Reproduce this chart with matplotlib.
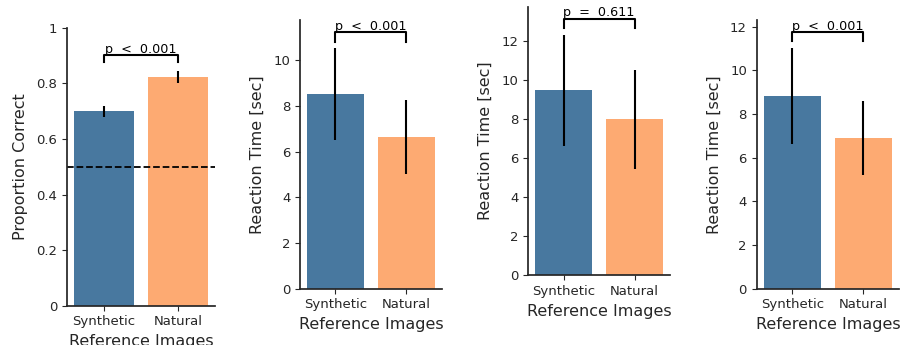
import numpy as np
import matplotlib
matplotlib.use("Agg")
import matplotlib.pyplot as plt

# data
labels = ["Synthetic", "Natural"]
colors = ["#48789f", "#fdaa72"]

prop_correct = [0.70, 0.822]
prop_lo = [0.680, 0.800]
prop_hi = [0.718, 0.844]

rt_a = [8.52, 6.64]
rt_a_lo = [6.51, 5.03]
rt_a_hi = [10.52, 8.26]

rt_b = [9.50, 8.01]
rt_b_lo = [6.65, 5.45]
rt_b_hi = [12.32, 10.53]

rt_c = [8.81, 6.90]
rt_c_lo = [6.61, 5.21]
rt_c_hi = [11.01, 8.60]

p_texts = ["p  <  0.001", "p  <  0.001", "p  =  0.611", "p  <  0.001"]

plt.rcParams.update({
    "font.family": "DejaVu Sans",
    "axes.edgecolor": "#262626",
    "axes.linewidth": 1.25,
    "xtick.color": "#262626",
    "ytick.color": "#262626",
    "text.color": "#262626",
    "axes.labelcolor": "#262626",
})

W, H = 903, 345
fig = plt.figure(figsize=(W / 100, H / 100), dpi=100)


def box(left, right, top, bottom):
    return [left / W, (H - bottom) / H, (right - left) / W, (bottom - top) / H]


def panel(rect, vals, lo, hi, ylim, yticks, yticklabels, ylabel, br_y, br_tick, ptxt):
    ax = fig.add_axes(rect)
    x = np.arange(len(vals))
    ax.bar(x, vals, width=0.8, color=colors)
    err = [np.array(vals) - np.array(lo), np.array(hi) - np.array(vals)]
    ax.errorbar(x, vals, yerr=err, fmt="none", ecolor="black", elinewidth=1.5, capsize=0)
    # significance bracket
    ax.plot([0, 0, 1, 1], [br_tick, br_y, br_y, br_tick], color="black", lw=1.5)
    ax.annotate(ptxt, (0.5, br_y), xytext=(0, 2), textcoords="offset points",
                ha="center", va="baseline", fontsize=9.2, color="black")
    ax.set_xlim(-0.5, 1.5)
    ax.set_ylim(*ylim)
    ax.set_xticks(x)
    ax.set_xticklabels(labels, fontsize=9.5)
    ax.set_yticks(yticks)
    ax.set_yticklabels(yticklabels, fontsize=9.5)
    ax.set_ylabel(ylabel, fontsize=11.5, labelpad=6)
    ax.set_xlabel("Reference Images", fontsize=11.5)
    ax.spines["top"].set_visible(False)
    ax.spines["right"].set_visible(False)
    return ax


ax1 = panel(box(67, 215, 27.7, 305.7), prop_correct, prop_lo, prop_hi, (0, 1),
            [0, 0.2, 0.4, 0.6, 0.8, 1], ["0", "0.2", "0.4", "0.6", "0.8", "1"],
            "Proportion Correct", 0.9, 0.875, p_texts[0])
ax1.axhline(0.5, color="black", ls="--", lw=1.3)

panel(box(300, 441.7, 20, 288.7), rt_a, rt_a_lo, rt_a_hi, (0, 11.76),
      [0, 2, 4, 6, 8, 10], ["0", "2", "4", "6", "8", "10"],
      "Reaction Time [sec]", 11.22, 10.81, p_texts[1])

panel(box(528.3, 670, 6.7, 275.3), rt_b, rt_b_lo, rt_b_hi, (0, 13.77),
      [0, 2, 4, 6, 8, 10, 12], ["0", "2", "4", "6", "8", "10", "12"],
      "Reaction Time [sec]", 13.13, 12.70, p_texts[2])

panel(box(756.7, 899, 20, 288.7), rt_c, rt_c_lo, rt_c_hi, (0, 12.31),
      [0, 2, 4, 6, 8, 10, 12], ["0", "2", "4", "6", "8", "10", "12"],
      "Reaction Time [sec]", 11.74, 11.35, p_texts[3])

fig.savefig("out.png", dpi=100)
